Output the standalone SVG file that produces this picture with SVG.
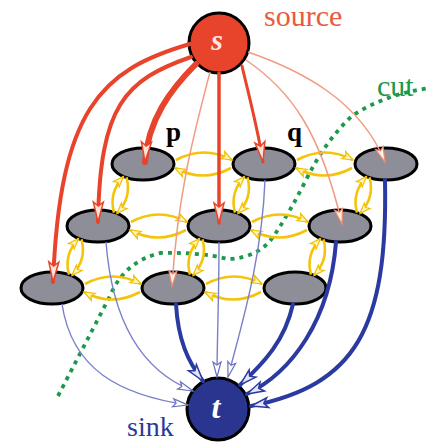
<svg xmlns="http://www.w3.org/2000/svg" width="430" height="442" viewBox="0 0 430 442">
<style>
.node{fill:#8e8e98;stroke:#000;stroke-width:3}
.red{fill:none;stroke:#e8432b;stroke-linecap:round}
.sal{fill:none;stroke:#f29a80;stroke-width:1.5}
.bth{fill:none;stroke:#2b3aa0;stroke-width:4;stroke-linecap:round}
.btn{fill:none;stroke:#7a80c8;stroke-width:1.4}
.yel{fill:none;stroke:#f4c40a;stroke-width:2.6}
.lbl{font-family:"Liberation Serif","DejaVu Serif",serif}
</style>
<defs>
<marker id="arR" markerUnits="userSpaceOnUse" markerWidth="24" markerHeight="14" refX="21" refY="6" orient="auto" overflow="visible"><path d="M1,1 L21,6 L1,11 L5,6 z" fill="#fde2d8" stroke="#e8432b" stroke-width="1.5"/></marker>
<marker id="arS" markerUnits="userSpaceOnUse" markerWidth="20" markerHeight="12" refX="16" refY="5" orient="auto" overflow="visible"><path d="M1,1 L16,5 L1,9 L4,5 z" fill="#fff0ea" stroke="#ef8a70" stroke-width="1.2"/></marker>
<marker id="arB" markerUnits="userSpaceOnUse" markerWidth="20" markerHeight="14" refX="18" refY="6" orient="auto" overflow="visible"><path d="M1,1 L18,6 L1,11 L5,6 z" fill="#e4e6f8" stroke="#2b3aa0" stroke-width="1.5"/></marker>
<marker id="arT" markerUnits="userSpaceOnUse" markerWidth="20" markerHeight="12" refX="16" refY="5" orient="auto" overflow="visible"><path d="M1,1 L16,5 L1,9 L4,5 z" fill="#ffffff" stroke="#6a72c0" stroke-width="1.2"/></marker>
<marker id="arY" markerUnits="userSpaceOnUse" markerWidth="14" markerHeight="10" refX="11" refY="4.5" orient="auto" overflow="visible"><path d="M0.5,0.5 L11,4.5 L0.5,8.5 L3,4.5 z" fill="#fff5c0" stroke="#f0c000" stroke-width="1.2"/></marker>
<g id="hpair">
<path class="yel" d="M33,-4 Q61,-19 89,-4" marker-end="url(#arY)"/>
<path class="yel" d="M88,4 Q60,19 32,4" marker-end="url(#arY)"/>
</g>
<g id="dpair">
<path class="yel" d="M-16.5,13.4 Q-11,33.5 -26,49.4" marker-end="url(#arY)"/>
<path class="yel" d="M-29,48.6 Q-34.5,28.5 -19.5,12.6" marker-end="url(#arY)"/>
</g>
</defs>

<g id="cut">
<path d="M58,396 L110,296 Q124,262 160,253 Q200,252 228,259 Q258,258 273,237 Q290,212 306,180 Q326,140 352,116 Q385,94 430,88" fill="none" stroke="#1a9a4a" stroke-width="3.8" stroke-dasharray="4 5"/>
<text class="lbl" x="377" y="96" font-size="30" fill="#1a9a4a">cut</text>
</g>

<g id="source">
<circle cx="219" cy="43" r="30" fill="#e8432b" stroke="#000" stroke-width="3"/>
<text class="lbl" x="217" y="50" font-size="30" font-style="italic" font-weight="bold" fill="#fde4dc" text-anchor="middle">s</text>
<text class="lbl" x="264" y="26" font-size="30" fill="#ea5a3e">source</text>
</g>
<g id="sink">
<circle cx="218" cy="409" r="31" fill="#2a3590" stroke="#000" stroke-width="3"/>
<text class="lbl" x="216" y="418" font-size="32" font-style="italic" font-weight="bold" fill="#ffffff" text-anchor="middle">t</text>
<text class="lbl" x="127" y="436" font-size="28" fill="#2b3a9a">sink</text>
</g>

<g id="n-p"><ellipse class="node" cx="143" cy="164" rx="31" ry="16"/><text class="lbl" x="166" y="141" font-size="27" font-weight="bold" fill="#000">p</text></g>
<g id="n-q"><ellipse class="node" cx="264" cy="164" rx="31" ry="16"/><text class="lbl" x="287" y="141" font-size="27" font-weight="bold" fill="#000">q</text></g>
<g id="n-r1"><ellipse class="node" cx="386" cy="164" rx="31" ry="16"/></g>
<g id="n-l2"><ellipse class="node" cx="98" cy="226" rx="31" ry="16"/></g>
<g id="n-m2"><ellipse class="node" cx="219" cy="226" rx="31" ry="16"/></g>
<g id="n-r2"><ellipse class="node" cx="340" cy="226" rx="31" ry="16"/></g>
<g id="n-l3"><ellipse class="node" cx="52" cy="288" rx="31" ry="16"/></g>
<g id="n-m3"><ellipse class="node" cx="173" cy="288" rx="31" ry="16"/></g>
<g id="n-r3"><ellipse class="node" cx="295" cy="288" rx="31" ry="16"/></g>

<g id="connectors">
<use href="#hpair" x="143" y="164"/>
<use href="#hpair" x="264" y="164"/>
<use href="#hpair" x="98" y="226"/>
<use href="#hpair" x="219" y="226"/>
<use href="#hpair" x="52" y="288"/>
<use href="#hpair" x="173" y="288"/>
<use href="#dpair" x="143" y="164"/>
<use href="#dpair" x="264" y="164"/>
<use href="#dpair" x="386" y="164"/>
<use href="#dpair" x="98" y="226"/>
<use href="#dpair" x="219" y="226"/>
<use href="#dpair" x="340" y="226"/>

<path class="btn" d="M62,304 C72,370 120,395 188,405" marker-end="url(#arT)"/>
<path class="btn" d="M106,242 C112,320 140,370 193,391" marker-end="url(#arT)"/>
<path class="btn" d="M219,242 C219,300 217,340 217,377" marker-end="url(#arT)"/>
<path class="btn" d="M265,180 C262,260 240,330 228,377" marker-end="url(#arT)"/>
<path class="bth" d="M176,304 C178,340 188,362 203,381" marker-end="url(#arB)"/>
<path class="bth" d="M293,304 C285,340 265,362 240,385" marker-end="url(#arB)"/>
<path class="bth" d="M336,242 C330,320 292,372 247,394" marker-end="url(#arB)"/>
<path class="bth" d="M385,180 C388,330 355,385 251,406" marker-end="url(#arB)"/>

<path class="red" stroke-width="4" d="M190,44 C100,70 60,110 53,282" marker-end="url(#arR)"/>
<path class="red" stroke-width="4" d="M191,57 C125,80 100,105 98,222" marker-end="url(#arR)"/>
<path class="red" stroke-width="6" d="M196,64 C170,90 148,120 145,162" marker-end="url(#arR)"/>
<path class="red" stroke-width="3.5" d="M219,73 L219,223" marker-end="url(#arR)"/>
<path class="red" stroke-width="3" d="M242,66 C250,100 258,130 263,162" marker-end="url(#arR)"/>
<path class="sal" d="M210,72 C195,130 178,190 172,286" marker-end="url(#arS)"/>
<path class="sal" d="M246,60 C290,90 320,130 342,224" marker-end="url(#arS)"/>
<path class="sal" d="M248,52 C300,70 360,100 385,162" marker-end="url(#arS)"/>
</g>
</svg>
